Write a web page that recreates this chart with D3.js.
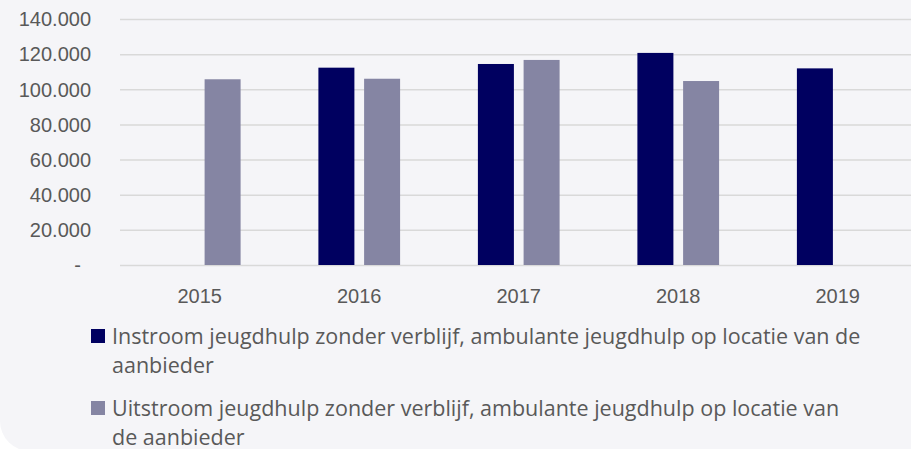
<!DOCTYPE html>
<html>
<head>
<meta charset="utf-8">
<script src="https://cdn.jsdelivr.net/npm/d3@7"></script>
<style>
  html, body { margin: 0; padding: 0; background: #ffffff; }
  svg { display: block; font-family: Lato, "Noto Sans", sans-serif; }
</style>
</head>
<body>
<div id="chart"></div>
<script>
// data
const years = ["2015", "2016", "2017", "2018", "2019"];
const seriesNames = ["Instroom", "Uitstroom"];
const instroom = [null, 112300, 114400, 120700, 111900];
const uitstroom = [105700, 106000, 116700, 104700, null];
const yTicks = [0, 20000, 40000, 60000, 80000, 100000, 120000, 140000];
const legendLines = [
  ["Instroom jeugdhulp zonder verblijf, ambulante jeugdhulp op locatie van de", "aanbieder"],
  ["Uitstroom jeugdhulp zonder verblijf, ambulante jeugdhulp op locatie van", "de aanbieder"]
];
const colors = ["#000060", "#8585a3"];

const width = 911, height = 449;
const svg = d3.select("#chart").append("svg")
  .attr("width", width)
  .attr("height", height);

// card background with rounded bottom-left corner
svg.append("rect")
  .attr("x", 0).attr("y", -40)
  .attr("width", width + 40).attr("height", height + 42)
  .attr("rx", 30)
  .attr("fill", "#f5f5f8");

const nl = d3.formatLocale({ decimal: ",", thousands: ".", grouping: [3], currency: ["€", ""] });
const fmt = nl.format(",.0f");

//scale
const x0 = d3.scaleBand().domain(years).range([120, 917.5]).padding(0);
const x1 = d3.scaleBand().domain(seriesNames).range([-40.85, 40.85]).paddingInner(0.2123);
const y = d3.scaleLinear().domain([0, 140000]).range([265, 19]);
const color = d3.scaleOrdinal().domain(seriesNames).range(colors);

//grid + y labels
const yAxis = svg.append("g")
  .attr("transform", "translate(120,0)")
  .call(d3.axisLeft(y).tickValues(yTicks).tickSize(-(width - 120)).tickPadding(29)
    .tickFormat(d => d === 0 ? "-" : fmt(d)));
yAxis.select(".domain").remove();
yAxis.selectAll(".tick line").attr("stroke", "#d9d9d9").attr("stroke-width", 1.5);
yAxis.selectAll(".tick text")
  .attr("fill", "#595959")
  .style("font-size", "20px")
  .attr("dy", "0.34em")
  .filter(d => d === 0).attr("dx", -10);

//x labels
const xAxis = svg.append("g")
  .attr("transform", "translate(0,265)")
  .call(d3.axisBottom(x0).tickSize(0).tickPadding(24));
xAxis.select(".domain").remove();
xAxis.selectAll(".tick text").attr("fill", "#595959").style("font-size", "20px");

//bars
const rows = years.map((yr, i) => ({ year: yr, values: [instroom[i], uitstroom[i]] }));
svg.append("g").selectAll("g")
  .data(rows)
  .join("g")
  .attr("transform", d => `translate(${x0(d.year) + x0.bandwidth() / 2},0)`)
  .selectAll("rect")
  .data(d => d.values.map((v, j) => ({ key: seriesNames[j], value: v })).filter(d => d.value != null))
  .join("rect")
  .attr("x", d => x1(d.key))
  .attr("width", x1.bandwidth())
  .attr("y", d => y(d.value))
  .attr("height", d => y(0) - y(d.value))
  .attr("fill", d => color(d.key));

//legend
const legendTop = [344, 416];
const lg = svg.append("g");
legendLines.forEach((lines, i) => {
  lg.append("rect")
    .attr("x", 91).attr("y", legendTop[i] - 15)
    .attr("width", 14).attr("height", 14)
    .attr("fill", colors[i]);
  lines.forEach((t, k) => {
    lg.append("text")
      .attr("x", 112)
      .attr("y", legendTop[i] + k * 28.5)
      .attr("fill", "#595959")
      .style("font-family", "'Open Sans', 'Noto Sans', sans-serif")
      .style("font-size", "21.5px")
      .text(t);
  });
});
</script>
</body>
</html>
